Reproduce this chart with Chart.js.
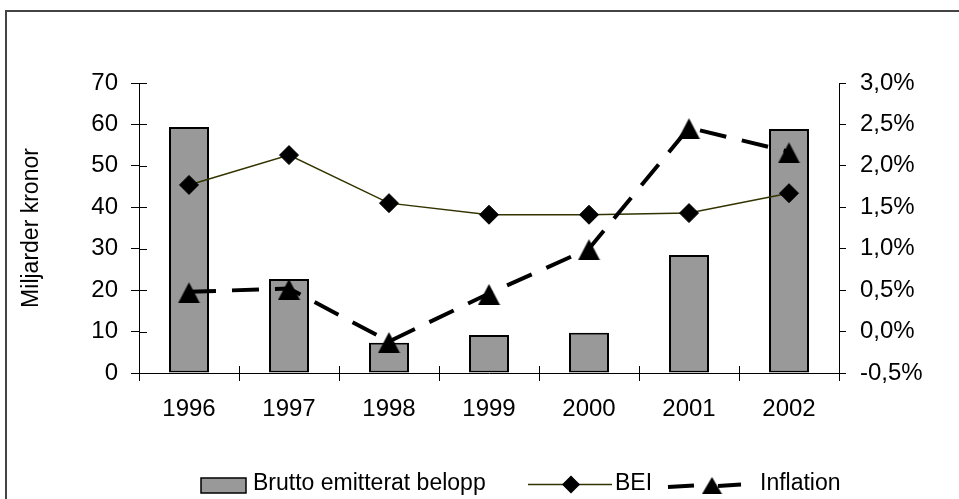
<!DOCTYPE html>
<html><head><meta charset="utf-8">
<script src="https://cdn.jsdelivr.net/npm/chart.js@4.4.1/dist/chart.umd.min.js"></script>
<style>
html,body{margin:0;padding:0;background:#fff;}
#wrap{position:relative;width:959px;height:499px;overflow:hidden;background:#fff;}
#frame{position:absolute;left:5px;top:10px;width:1000px;height:600px;border-left:2px solid #444;border-top:2px solid #444;}
canvas{position:absolute;left:0;top:0;}
</style></head><body>
<div id="wrap"><div id="frame"></div><canvas id="c" width="959" height="499"></canvas></div>
<script>
// ---- data ----
const years = ['1996', '1997', '1998', '1999', '2000', '2001', '2002'];
const bruttoEmitterat = [59.4, 22.7, 7.3, 9.2, 9.7, 28.5, 58.9];   // miljarder kronor
const bei = [1.77, 2.13, 1.55, 1.41, 1.41, 1.43, 1.67];              // %
const inflation = [0.48, 0.52, -0.12, 0.46, 1.0, 2.46, 2.17];        // %
const leftTicks = [0, 10, 20, 30, 40, 50, 60, 70];
const rightTicks = [-0.5, 0, 0.5, 1.0, 1.5, 2.0, 2.5, 3.0];
const seriesNames = ['Brutto emitterat belopp', 'BEI', 'Inflation'];
const axisTitle = 'Miljarder kronor';

const FONT = '"Liberation Sans", Arial, sans-serif';
Chart.defaults.font.family = FONT;
Chart.defaults.font.size = 23;
Chart.defaults.color = '#000';

// triangle marker image (bbox-centred like Excel)
function makeTriangle(w, h) {
  const c = document.createElement('canvas');
  c.width = w; c.height = h + 2;
  const g = c.getContext('2d');
  g.fillStyle = '#000';
  g.beginPath();
  g.moveTo(w / 2, 2);
  g.lineTo(w - 0.5, h + 2);
  g.lineTo(0.5, h + 2);
  g.closePath();
  g.fill();
  return c;
}
const triImg = makeTriangle(23, 21);
const triLegend = makeTriangle(21, 17);

const innerTicks = {
  id: 'innerTicks',
  afterDraw(chart) {
    const ctx = chart.ctx, a = chart.chartArea;
    const ys = chart.scales.y, xs = chart.scales.x;
    ctx.save();
    ctx.strokeStyle = '#000';
    ctx.lineWidth = 1;
    ctx.beginPath();
    leftTicks.forEach(v => {
      const py = Math.round(ys.getPixelForValue(v)) + 0.5;
      ctx.moveTo(a.left, py); ctx.lineTo(a.left + 8, py);
    });
    for (let i = 0; i <= years.length; i++) {
      const px = Math.round(xs.getPixelForValue(i - 0.5)) + 0.5;
      ctx.moveTo(px, a.bottom); ctx.lineTo(px, a.bottom - 7);
    }
    ctx.stroke();
    ctx.restore();
  }
};

const excelLegend = {
  id: 'excelLegend',
  afterDraw(chart) {
    const ctx = chart.ctx;
    const ds = chart.data.datasets;
    const y = 484;
    ctx.save();
    ctx.font = '23px ' + FONT;
    ctx.textBaseline = 'middle';
    ctx.textAlign = 'left';
    // bars
    ctx.fillStyle = ds[0].backgroundColor;
    ctx.fillRect(201, 478, 45, 15);
    ctx.strokeStyle = '#000'; ctx.lineWidth = 1.5;
    ctx.strokeRect(201, 478, 45, 15);
    ctx.fillStyle = '#000';
    ctx.fillText(ds[0].label, 253, y);
    // BEI
    ctx.strokeStyle = ds[1].borderColor; ctx.lineWidth = ds[1].borderWidth;
    ctx.beginPath(); ctx.moveTo(528, y + 0.5); ctx.lineTo(612, y + 0.5); ctx.stroke();
    ctx.fillStyle = '#000'; ctx.strokeStyle = '#000';
    Chart.helpers.drawPoint(ctx, {pointStyle: 'rectRot', radius: 8, borderWidth: 1, rotation: 0}, 571, y + 0.5);
    ctx.fillStyle = '#000';
    ctx.fillText(ds[1].label, 615, y);
    // Inflation
    ctx.strokeStyle = '#000'; ctx.lineWidth = 4; ctx.lineCap = 'butt';
    ctx.beginPath();
    ctx.moveTo(668, y + 3); ctx.lineTo(694, y + 1.5);
    ctx.moveTo(718, y + 2); ctx.lineTo(741, y + 0.5);
    ctx.stroke();
    ctx.drawImage(triLegend, 712 - triLegend.width / 2, 475);
    ctx.fillText(ds[2].label, 760, y);
    ctx.restore();
  }
};

new Chart(document.getElementById('c'), {
  type: 'bar',
  data: {
    labels: years,
    datasets: [
      {
        type: 'bar', label: seriesNames[0], data: bruttoEmitterat, yAxisID: 'y',
        backgroundColor: '#999999', borderColor: '#000', borderWidth: 2, borderSkipped: false,
        barPercentage: 0.4, categoryPercentage: 1.0, order: 3
      },
      {
        type: 'line', label: seriesNames[1], data: bei, yAxisID: 'y2',
        borderColor: '#333300', borderWidth: 1.5, backgroundColor: '#000',
        pointStyle: 'rectRot', pointRadius: 9.5, pointBorderColor: '#000', pointBorderWidth: 1,
        pointBackgroundColor: '#000', tension: 0, fill: false, order: 2
      },
      {
        type: 'line', label: seriesNames[2], data: inflation, yAxisID: 'y2',
        borderColor: '#000', borderWidth: 4, borderDash: [27, 16], borderCapStyle: 'butt',
        pointStyle: triImg, pointRadius: 12, tension: 0, fill: false, order: 1
      }
    ]
  },
  options: {
    responsive: false,
    animation: false,
    events: [],
    layout: {padding: {left: 0, right: 0, top: 83, bottom: 66}},
    plugins: {legend: {display: false}, tooltip: {enabled: false}},
    scales: {
      x: {
        offset: true,
        grid: {display: true, drawOnChartArea: false, offset: true, tickLength: 8, color: '#000', lineWidth: 1},
        border: {display: true, color: '#000', width: 1},
        ticks: {padding: 14, maxRotation: 0, autoSkip: false, font: {size: 24}},
        afterFit: s => { s.height = 60; }
      },
      y: {
        position: 'left', min: 0, max: 70,
        afterBuildTicks: s => { s.ticks = leftTicks.map(v => ({value: v})); },
        grid: {display: true, drawOnChartArea: false, tickLength: 8, color: '#000', lineWidth: 1},
        border: {display: true, color: '#000', width: 1},
        ticks: {padding: 13, font: {size: 24}, callback: v => String(v)},
        title: {display: true, text: axisTitle, font: {size: 23}, padding: {top: 18, bottom: 0}},
        afterFit: s => { s.width = 139; }
      },
      y2: {
        position: 'right', min: -0.5, max: 3.0,
        afterBuildTicks: s => { s.ticks = rightTicks.map(v => ({value: v})); },
        grid: {display: true, drawOnChartArea: false, tickLength: 7, color: '#000', lineWidth: 1},
        border: {display: true, color: '#000', width: 1},
        ticks: {padding: 14, font: {size: 24}, callback: v => v.toFixed(1).replace('.', ',') + '%'},
        afterFit: s => { s.width = 120; }
      }
    }
  },
  plugins: [innerTicks, excelLegend]
});
</script>
</body></html>
